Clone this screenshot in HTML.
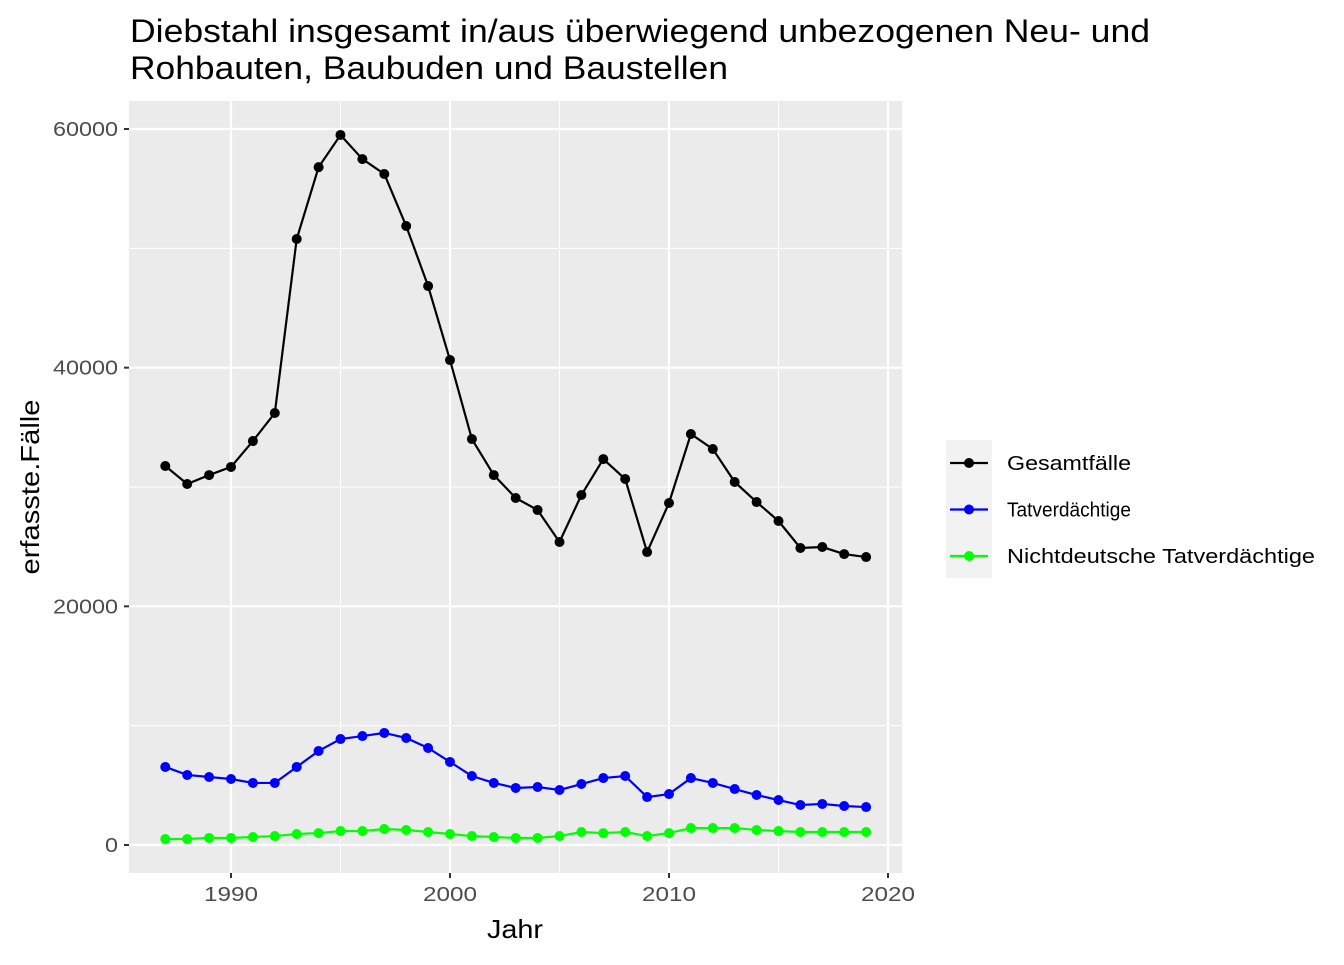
<!DOCTYPE html>
<html><head><meta charset="utf-8"><style>
body{margin:0;background:#fff;font-family:"Liberation Sans",sans-serif;}
svg text{font-family:"Liberation Sans",sans-serif;}
</style></head><body>
<svg width="1344" height="960">
<text x="130" y="42" font-size="32" textLength="1020" lengthAdjust="spacingAndGlyphs" fill="#000">Diebstahl insgesamt in/aus überwiegend unbezogenen Neu- und</text>
<text x="130" y="79" font-size="32" textLength="598" lengthAdjust="spacingAndGlyphs" fill="#000">Rohbauten, Baubuden und Baustellen</text>
<rect x="129" y="101" width="773" height="772" fill="#EBEBEB"/>
<g id="grid"></g>
<g id="series"></g>
<g id="axes"></g>
<text x="515" y="938" font-size="26" textLength="56" lengthAdjust="spacingAndGlyphs" text-anchor="middle">Jahr</text>
<text transform="translate(39,487) rotate(-90)" font-size="26" textLength="175" lengthAdjust="spacingAndGlyphs" text-anchor="middle">erfasste.Fälle</text>
<g id="legend">
<rect x="946" y="440" width="46" height="138" fill="#F2F2F2"/>
</g>
</svg>
<script>
const years=[1987,1988,1989,1990,1991,1992,1993,1994,1995,1996,1997,1998,1999,2000,2001,2002,2003,2004,2005,2006,2007,2008,2009,2010,2011,2012,2013,2014,2015,2016,2017,2018,2019];
const gesamt=[31760,30250,31000,31680,33850,36200,50780,56800,59500,57480,56230,51870,46840,40640,34020,31000,29080,28070,25390,29330,32340,30670,24550,28660,34440,33180,30420,28740,27150,24890,24970,24380,24130];
const tatverd=[6540,5870,5700,5530,5200,5200,6540,7880,8880,9130,9390,8970,8130,6960,5780,5200,4780,4860,4610,5110,5610,5780,4020,4270,5610,5200,4690,4190,3770,3350,3440,3270,3180];
const nichtdeutsch=[500,500,590,590,670,750,920,1000,1170,1170,1340,1260,1090,920,750,670,590,590,750,1090,1000,1090,750,1000,1420,1420,1420,1260,1170,1090,1090,1090,1090];
const yTicks=[0,20000,40000,60000];
const xTicks=[1990,2000,2010,2020];
const seriesNames=["Gesamtfälle","Tatverdächtige","Nichtdeutsche Tatverdächtige"];
const seriesColors=["#000000","#0000FF","#00FF00"];
const legendWidths=[124,124,308];
const NS="http://www.w3.org/2000/svg";
const X=v=>231+(v-1990)*21.9;
const Y=v=>845-v*(716/60000);
function mk(tag,attrs,parent){const e=document.createElementNS(NS,tag);for(const k in attrs)e.setAttribute(k,attrs[k]);parent.appendChild(e);return e;}
const grid=document.getElementById('grid'),axes=document.getElementById('axes'),ser=document.getElementById('series');
[10000,30000,50000].forEach(v=>{const l=mk('line',{x1:129,x2:902,y1:Y(v),y2:Y(v),stroke:'#fff','stroke-width':1},grid);

});
[1985,1995,2005,2015].forEach(v=>{const l=mk('line',{x1:X(v),x2:X(v),y1:101,y2:873,stroke:'#fff','stroke-width':1},grid);

});
yTicks.forEach(v=>{const l=mk('line',{x1:129,x2:902,y1:Y(v),y2:Y(v),stroke:'#fff','stroke-width':2.2},grid);


const t=mk('line',{x1:124,x2:129,y1:Y(v),y2:Y(v),stroke:'#333','stroke-width':2},axes);


const s=String(v);
const tx=mk('text',{x:118,y:Y(v)+7,'font-size':20,fill:'#4D4D4D','text-anchor':'end',textLength:s.length*13,lengthAdjust:'spacingAndGlyphs'},axes);tx.textContent=s;

});
xTicks.forEach(v=>{const l=mk('line',{x1:X(v),x2:X(v),y1:101,y2:873,stroke:'#fff','stroke-width':2.2},grid);


const t=mk('line',{x1:X(v),x2:X(v),y1:873,y2:878,stroke:'#333','stroke-width':2},axes);


const tx=mk('text',{x:X(v),y:901,'font-size':20,fill:'#4D4D4D','text-anchor':'middle',textLength:54,lengthAdjust:'spacingAndGlyphs'},axes);tx.textContent=v;

});
[gesamt,tatverd,nichtdeutsch].forEach((arr,i)=>{
const p=mk('polyline',{points:arr.map((v,j)=>X(years[j])+','+Y(v)).join(' '),fill:'none',stroke:seriesColors[i],'stroke-width':2.2},ser);


arr.forEach((v,j)=>{const c=mk('circle',{cx:X(years[j]),cy:Y(v),r:5,fill:seriesColors[i]},ser);

});});
const lg=document.getElementById('legend');
seriesNames.forEach((n,i)=>{const y=463+i*46.5;
const l=mk('line',{x1:950,x2:988,y1:y,y2:y,stroke:seriesColors[i],'stroke-width':2.2},lg);


const c=mk('circle',{cx:969,cy:y,r:5,fill:seriesColors[i]},lg);


const t=mk('text',{x:1007,y:y+7,'font-size':20,fill:'#000',textLength:legendWidths[i],lengthAdjust:'spacingAndGlyphs'},lg);t.textContent=n;

});
</script>
</body></html>
